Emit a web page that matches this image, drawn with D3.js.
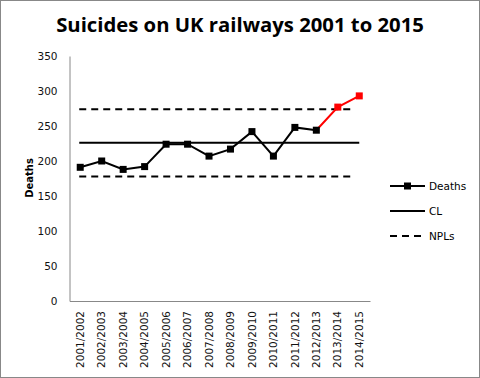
<!DOCTYPE html>
<html lang="en">
<head>
<meta charset="UTF-8">
<title>Suicides on UK railways</title>
<style>
  body { margin: 0; background: #fff; }
  .axis .domain { stroke: #888; }
  .axis .tick line { display: none; }
  .axis text { font-family: "DejaVu Sans", Verdana, sans-serif; font-size: 10.5px; fill: #111; }
</style>
</head>
<body>
<svg width="480" height="378" id="svg"></svg>
<script src="https://d3js.org/d3.v7.min.js"></script>
<script>
// data
const years = ["2001/2002", "2002/2003", "2003/2004", "2004/2005", "2005/2006", "2006/2007", "2007/2008",
  "2008/2009", "2009/2010", "2010/2011", "2011/2012", "2012/2013", "2013/2014", "2014/2015"]
const deaths = [191, 200, 188, 192, 224, 224, 207, 217, 242, 207, 248, 244, 277, 293]
const cl = 226
const upperNPL = 274
const lowerNPL = 178
const yTicks = [0, 50, 100, 150, 200, 250, 300, 350]
const signalFrom = 12 // points from here on are above the upper NPL

const data = years.map((y, i) => ({ year: y, value: deaths[i], i: i }))

const svg = d3.select("svg#svg")
const width = +svg.attr("width")
const height = +svg.attr("height")
const padding = { top: 56, left: 69.5, right: 110, bottom: 77 }

// frame
svg.append("rect").attr("x", 0.5).attr("y", 0.5).attr("width", width - 1).attr("height", height - 1)
  .attr("fill", "#fff").attr("stroke", "#888")

svg.append("text").attr("x", 240).attr("y", 32).attr("text-anchor", "middle")
  .style("font-family", "'Open Sans', sans-serif").style("font-weight", "bold").style("font-size", "20.3px")
  .text("Suicides on UK railways 2001 to 2015")

const xScale = d3.scaleBand().domain(years).range([padding.left, 370])
const yScale = d3.scaleLinear().domain([0, 350]).range([301, padding.top])
const cx = d => xScale(d) + xScale.bandwidth() / 2

svg.append("g").attr("class", "axis").attr("transform", "translate(0,301)")
  .call(d3.axisBottom(xScale).tickSize(0).tickSizeOuter(0))
  .selectAll("text")
  .attr("transform", "rotate(-90)").attr("text-anchor", "end")
  .attr("x", -10).attr("y", 0).attr("dy", "0.35em")

svg.append("g").attr("class", "axis").attr("transform", `translate(${padding.left},0)`)
  .call(d3.axisLeft(yScale).tickValues(yTicks).tickSize(0).tickSizeOuter(0).tickPadding(12))

svg.append("text").attr("transform", "translate(33,178) rotate(-90)").attr("text-anchor", "middle")
  .style("font-family", "'DejaVu Sans', sans-serif").style("font-weight", "bold").style("font-size", "10px")
  .text("Deaths")

// limits
const x0 = cx(years[0]) - 1, x1 = cx(years[years.length - 1])
svg.append("line").attr("x1", x0).attr("x2", x1).attr("y1", yScale(cl)).attr("y2", yScale(cl))
  .attr("stroke", "#000").attr("stroke-width", 2)
;[upperNPL, lowerNPL].forEach(v => {
  svg.append("line").attr("x1", x0).attr("x2", x1 - 5).attr("y1", yScale(v)).attr("y2", yScale(v))
    .attr("stroke", "#000").attr("stroke-width", 2).attr("stroke-dasharray", "7,5")
})

// series
const line = d3.line().x(d => cx(d.year)).y(d => yScale(d.value))
svg.append("path").datum(data.slice(0, signalFrom))
  .attr("fill", "none").attr("stroke", "#000").attr("stroke-width", 2).attr("d", line)
svg.append("path").datum(data.slice(signalFrom - 1))
  .attr("fill", "none").attr("stroke", "#f00").attr("stroke-width", 2).attr("d", line)
svg.selectAll("rect.pt").data(data).join("rect").attr("class", "pt")
  .attr("x", d => cx(d.year) - 3.5).attr("y", d => yScale(d.value) - 3.5)
  .attr("width", 7).attr("height", 7)
  .attr("fill", d => d.i >= signalFrom ? "#f00" : "#000")

// legend
const legend = [
  { name: "Deaths", dash: null, marker: true },
  { name: "CL", dash: null, marker: false },
  { name: "NPLs", dash: "7,5", marker: false }
]
const lg = svg.append("g")
legend.forEach((d, i) => {
  const y = 186 + i * 25
  lg.append("line").attr("x1", 390).attr("x2", 425).attr("y1", y).attr("y2", y)
    .attr("stroke", "#000").attr("stroke-width", 2).attr("stroke-dasharray", d.dash)
  if (d.marker) lg.append("rect").attr("x", 404).attr("y", y - 3.5).attr("width", 7).attr("height", 7)
  lg.append("text").attr("x", 429).attr("y", y).attr("dy", "0.35em")
    .style("font-family", "'DejaVu Sans', sans-serif").style("font-size", "10.5px").text(d.name)
})
</script>
</body>
</html>
